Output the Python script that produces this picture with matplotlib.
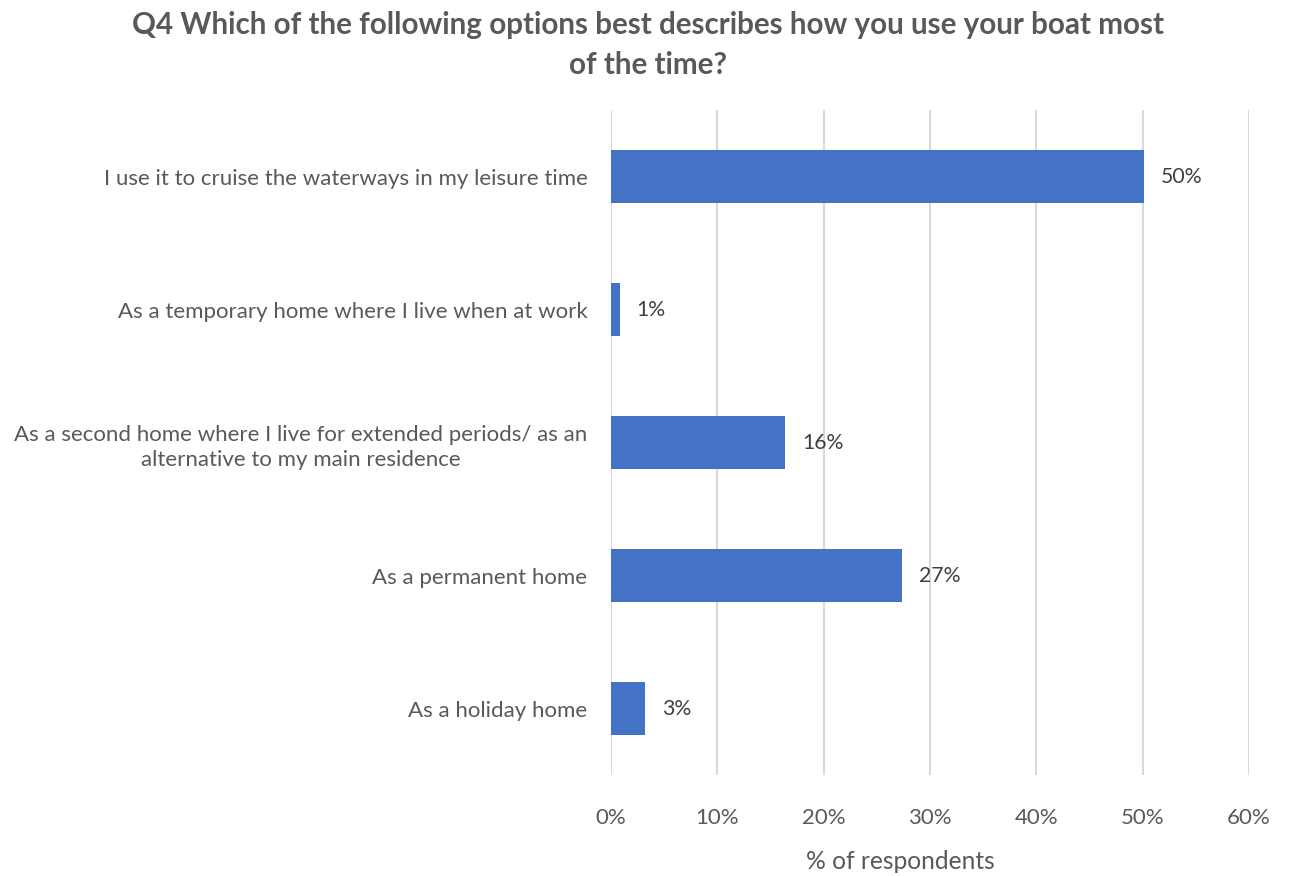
import matplotlib
matplotlib.use("Agg")
import matplotlib.pyplot as plt
from matplotlib.ticker import PercentFormatter

title = "Q4 Which of the following options best describes how you use your boat most\nof the time?"
categories = [
    "I use it to cruise the waterways in my leisure time",
    "As a temporary home where I live when at work",
    "As a second home where I live for extended periods/ as an\nalternative to my main residence",
    "As a permanent home",
    "As a holiday home",
]
shares = [50.1, 0.8, 16.4, 27.4, 3.2]
xticks = [0, 10, 20, 30, 40, 50, 60]
xlabel = "% of respondents"

plt.rcParams['font.family'] = ['Lato', 'DejaVu Sans']
text_color = "#595959"
bar_color = "#4472C4"

fig = plt.figure(figsize=(12.96, 8.76), dpi=100)
ax = fig.add_axes([0.4715, 0.1153, 0.4922, 0.7591])

pos = list(range(len(categories)))
ax.barh(pos, shares, height=0.4, color=bar_color, zorder=3)
for p, v in zip(pos, shares):
    ax.annotate(f"{v:.0f}%", (v, p), xytext=(12, 0), textcoords="offset points",
                va="center", ha="left", fontsize=15.3, color="#404040")

ax.set_ylim(4.5, -0.5)
ax.set_xlim(0, 60)
ax.set_xticks(xticks)
ax.xaxis.set_major_formatter(PercentFormatter(decimals=0))
ax.set_yticks(pos)
ax.set_yticklabels(categories, ha="right", multialignment="center", linespacing=1.35)
ax.tick_params(axis="y", length=0, pad=17, labelsize=16, labelcolor=text_color)
ax.tick_params(axis="x", length=0, pad=24, labelsize=16, labelcolor=text_color)

ax.grid(axis="x", color="#d9d9d9", linewidth=1.5, zorder=0)
for s in ax.spines.values():
    s.set_visible(False)
ax.set_xlabel(xlabel, fontsize=17.7, color=text_color)
ax.xaxis.set_label_coords(0.453, -0.113)
fig.suptitle(title, fontsize=21.3, fontweight="bold", color=text_color, y=0.988, linespacing=1.55)

fig.savefig("out.png", dpi=100)
